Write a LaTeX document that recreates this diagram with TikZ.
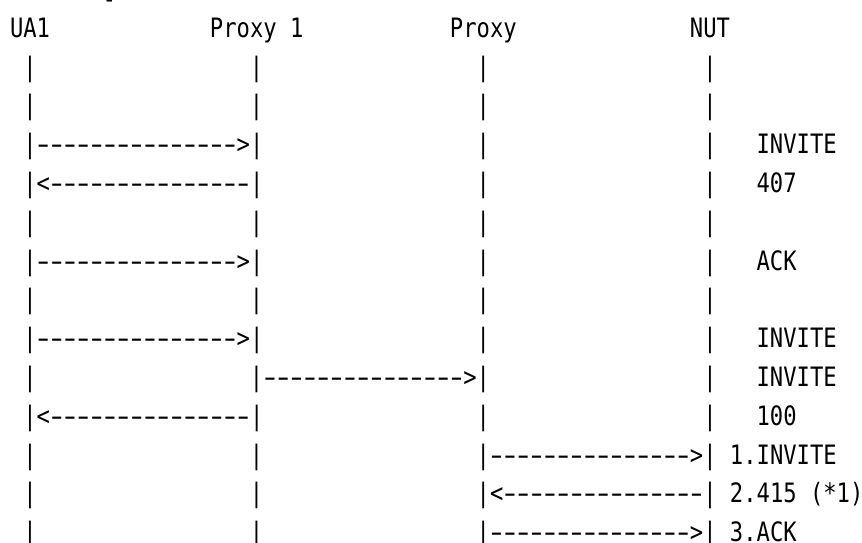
\documentclass[tikz,border=0pt]{standalone}
\usepackage{fontspec}
\newfontfamily\monofont[FakeStretch=0.83]{DejaVu Sans Mono}
\newlength\cw
\setlength\cw{13.333pt}
\newcommand\hy{\makebox[\cw][c]{\scalebox{1.6}[1]{-}}}
\newcommand\dashrun{\hy\hy\hy\hy\hy\hy\hy\hy\hy\hy\hy\hy\hy\hy\hy}
\tikzset{txt/.style={anchor=base west, inner sep=0pt, outer sep=0pt,
  font=\monofont\fontsize{26.7}{30}\selectfont}}
\newcommand\txtat[3]{\node[txt] (t#2x#1) at ({10+13.333*#1},{37.3+38.8*#2}) {#3};}
\newcommand\bars[1]{\txtat{1}{#1}{|}\txtat{18}{#1}{|}\txtat{35}{#1}{|}\txtat{52}{#1}{|}}
\begin{document}
\begin{tikzpicture}[x=1pt,y=-1pt]
\fill[white] (0,0) rectangle (862,543);
\useasboundingbox (0,0) rectangle (862,543);
% fragment of a line above the picture's top edge
\node[txt] (frag) at ({10+13.333*7},-1.8) {\bfseries ]};
% headers
\txtat{0}{0}{UA1}
\txtat{15}{0}{Proxy 1}
\txtat{33}{0}{Proxy}
\txtat{51}{0}{NUT}
% rows
\bars{1}
\bars{2}
\txtat{1}{3}{|\dashrun>|}\txtat{35}{3}{|}\txtat{52}{3}{|}\txtat{56}{3}{INVITE}
\txtat{1}{4}{|<\dashrun|}\txtat{35}{4}{|}\txtat{52}{4}{|}\txtat{56}{4}{407}
\bars{5}
\txtat{1}{6}{|\dashrun>|}\txtat{35}{6}{|}\txtat{52}{6}{|}\txtat{56}{6}{ACK}
\bars{7}
\txtat{1}{8}{|\dashrun>|}\txtat{35}{8}{|}\txtat{52}{8}{|}\txtat{56}{8}{INVITE}
\txtat{1}{9}{|}\txtat{18}{9}{|\dashrun>|}\txtat{52}{9}{|}\txtat{56}{9}{INVITE}
\txtat{1}{10}{|<\dashrun|}\txtat{35}{10}{|}\txtat{52}{10}{|}\txtat{56}{10}{100}
\txtat{1}{11}{|}\txtat{18}{11}{|}\txtat{35}{11}{|\dashrun>|}\txtat{54}{11}{1.INVITE}
\txtat{1}{12}{|}\txtat{18}{12}{|}\txtat{35}{12}{|<\dashrun|}\txtat{54}{12}{2.415 (*1)}
\txtat{1}{13}{|}\txtat{18}{13}{|}\txtat{35}{13}{|\dashrun>|}\txtat{54}{13}{3.ACK}
\end{tikzpicture}
\end{document}
